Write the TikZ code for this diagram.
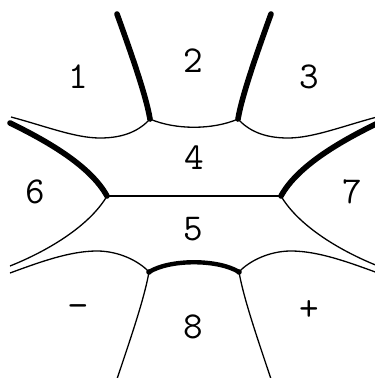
\documentclass[tikz,border=0pt]{standalone}
\begin{document}
\begin{tikzpicture}[x=1pt,y=-1pt,
  thin line/.style={line width=1.3pt},
  thick line/.style={line width=5.6pt,line cap=round},
  lab/.style={font=\ttfamily\fontsize{38}{38}\selectfont,inner sep=0pt}]
\useasboundingbox (0,0) rectangle (375,378);
\clip (0,0) rectangle (375,378);
\coordinate (A) at (150,119);
\coordinate (B) at (238,119);
\coordinate (C) at (107,196);
\coordinate (D) at (281,196);
\coordinate (E) at (149,272);
\coordinate (F) at (239,272);
% top thick
\draw[thick line] (117,14) .. controls (130,50) and (146,95) .. (A);
\draw[thick line] (271,14) .. controls (258,50) and (242,95) .. (B);
% thin arcs top
\draw[thin line] (A) .. controls (175,130) and (213,130) .. (B);
\draw[thin line] (11,117) .. controls (45,126) and (75,138) .. (100,138) .. controls (125,138) and (140,130) .. (A);
\draw[thin line] (377,117) .. controls (343,126) and (313,138) .. (288,138) .. controls (263,138) and (248,130) .. (B);
% thick side curves
\draw[thick line] (10,123) .. controls (45,140) and (90,165) .. (C);
\draw[thick line] (378,123) .. controls (343,140) and (298,165) .. (D);
% horizontal
\draw[thin line] (C) -- (D);
% lower side thin
\draw[thin line] (C) .. controls (90,225) and (50,250) .. (10,266);
\draw[thin line] (D) .. controls (298,225) and (338,250) .. (378,266);
\draw[thin line] (10,273) .. controls (40,262) and (70,251) .. (97,251) .. controls (120,251) and (140,262) .. (E);
\draw[thin line] (378,273) .. controls (348,262) and (318,251) .. (291,251) .. controls (268,251) and (248,262) .. (F);
% bottom thick arc
\draw[line width=4.4pt] (E) .. controls (170,259) and (218,259) .. (F);
\fill (E) circle (2.8);
\fill (F) circle (2.8);
% bottom lines
\draw[thin line] (E) .. controls (144,300) and (130,340) .. (116,382);
\draw[thin line] (F) .. controls (244,300) and (258,340) .. (272,382);
% labels
\node[lab] (l1) at (78,77) {1};
\node[lab] (l2) at (193,61) {2};
\node[lab] (l3) at (309,77) {3};
\node[lab] (l4) at (194,158) {4};
\node[lab] (l6) at (35,192) {6};
\node[lab] (l7) at (352,192) {7};
\node[lab] (l5) at (193,229) {5};
\node[lab] (lm) at (78,311) {−};
\node[lab] (l8) at (193,327) {8};
\node[lab] (lp) at (309,311) {+};
\end{tikzpicture}
\end{document}
